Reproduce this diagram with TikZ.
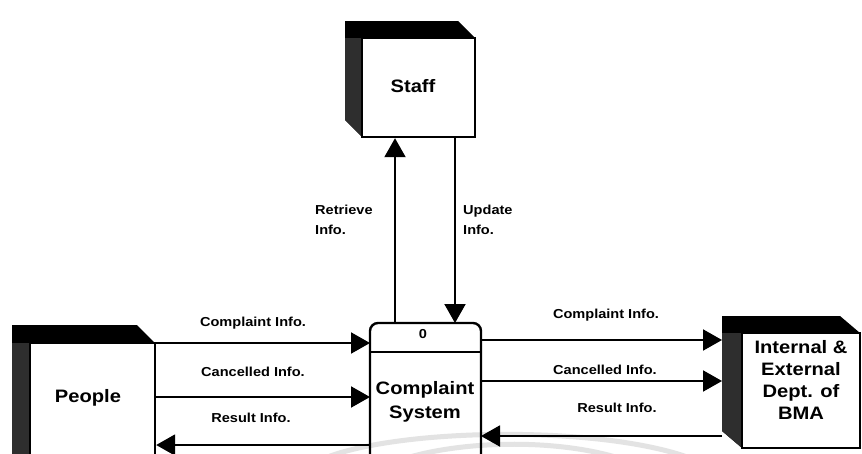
\documentclass[tikz,border=0pt]{standalone}
\usepackage{fontspec}
\setmainfont{Liberation Sans}
\newfontfamily\lblfont[FakeStretch=1.12]{Liberation Sans}
\newfontfamily\bigfont[FakeStretch=1.12]{Liberation Sans}
\usetikzlibrary{arrows.meta}
\begin{document}
\begin{tikzpicture}[x=1pt,y=-1pt,
  lbl/.style={font=\lblfont\bfseries\fontsize{13}{20}\selectfont, inner sep=0pt},
  biglbl/.style={font=\bigfont\bfseries\fontsize{18}{22}\selectfont, inner sep=0pt, align=center},
  face/.style={draw, line width=2.4pt, fill=white, inner sep=0pt},
  shade3d/.style={fill=black},
  sidestrip/.style={fill=black!82},
  flow/.style={line width=2pt, -{Triangle[length=19pt,width=21pt]}},
  wm/.style={gray!22, line width=5pt}]
\clip (0,0) rectangle (862,453);
\fill[white] (0,0) rectangle (862,453);
% Staff (external entity)
\fill[shade3d] (345,21) -- (458,21) -- (475,38) -- (475,137) -- (362,137) -- (345,120) -- cycle;
\fill[sidestrip] (345,38) -- (362,38) -- (362,137) -- (345,120) -- cycle;
\node[face, minimum width=113, minimum height=99] (staff) at (418.5,87.5) {};
\node[biglbl] (stafftxt) at (413,86) {Staff};
% People (external entity)
\fill[shade3d] (12,325) -- (137,325) -- (155,343) -- (155,480) -- (30,480) -- (12,462) -- cycle;
\fill[sidestrip] (12,343) -- (30,343) -- (30,480) -- (12,462) -- cycle;
\node[face, minimum width=125, minimum height=137] (people) at (92.5,411.5) {};
\node[biglbl] (peopletxt) at (88,398) {People};
% Internal & External Dept. of BMA (external entity)
\fill[shade3d] (722,316) -- (840,316) -- (860,333) -- (860,448) -- (742,448) -- (722,431) -- cycle;
\fill[sidestrip] (722,333) -- (742,333) -- (742,448) -- (722,431) -- cycle;
\node[face, minimum width=118, minimum height=115] (ext) at (801,390.5) {};
\node[biglbl, font=\bigfont\bfseries\fontsize{18}{21.7}\selectfont] (exttxt) at (801,380) {Internal \&\\External\\Dept. of\\BMA};
\coordinate (extedge) at (722,0);
% Process 0
\node[draw=none, fill=white, inner sep=0pt, outer sep=0pt, minimum width=111, minimum height=157] (proc) at (425.5,401.5) {};
% faint watermark band
\draw[wm] (325,458) .. controls (400,428) and (600,425) .. (690,458);
\draw[wm] (400,460) .. controls (460,440) and (560,438) .. (625,460);
\draw[line width=2.4pt] (proc.west |- 0,352) -- (proc.east |- 0,352);
\draw[line width=2.4pt, rounded corners=8pt] (proc.south west) -- (proc.north west) -- (proc.north east) -- (proc.south east);
\node[lbl] (procid) at (423,334) {0};
\node[biglbl, font=\bigfont\bfseries\fontsize{18}{24}\selectfont] (proctxt) at (425,402) {Complaint\\System};
% row coordinates
\coordinate (yA) at (0,343);
\coordinate (yB) at (0,397);
\coordinate (yC) at (0,445);
\coordinate (yD) at (0,340);
\coordinate (yE) at (0,381);
\coordinate (yF) at (0,436);
\coordinate (xR) at (395,0);
\coordinate (xU) at (455,0);
% flows People <-> Process
\draw[flow] (people.east |- yA) -- (proc.west |- yA);
\draw[flow] (people.east |- yB) -- (proc.west |- yB);
\draw[flow] (proc.west |- yC) -- (people.east |- yC);
\node[lbl] (l1) at (253,323) {Complaint Info.};
\node[lbl] (l2) at (253,372) {Cancelled Info.};
\node[lbl] (l3) at (251,418) {Result Info.};
% flows Process <-> Internal
\draw[flow] (proc.east |- yD) -- (extedge |- yD);
\draw[flow] (proc.east |- yE) -- (extedge |- yE);
\draw[flow] (extedge |- yF) -- (proc.east |- yF);
\node[lbl] (r1) at (606,315) {Complaint Info.};
\node[lbl] (r2) at (605,370) {Cancelled Info.};
\node[lbl] (r3) at (617,408) {Result Info.};
% flows Process <-> Staff
\draw[flow] (proc.north -| xR) -- (staff.south -| xR);
\draw[flow] (staff.south -| xU) -- (proc.north -| xU);
\node[lbl, align=left, anchor=west] (ret) at (315,220) {Retrieve\\Info.};
\node[lbl, align=left, anchor=west] (upd) at (463,220) {Update\\Info.};
\end{tikzpicture}
\end{document}
